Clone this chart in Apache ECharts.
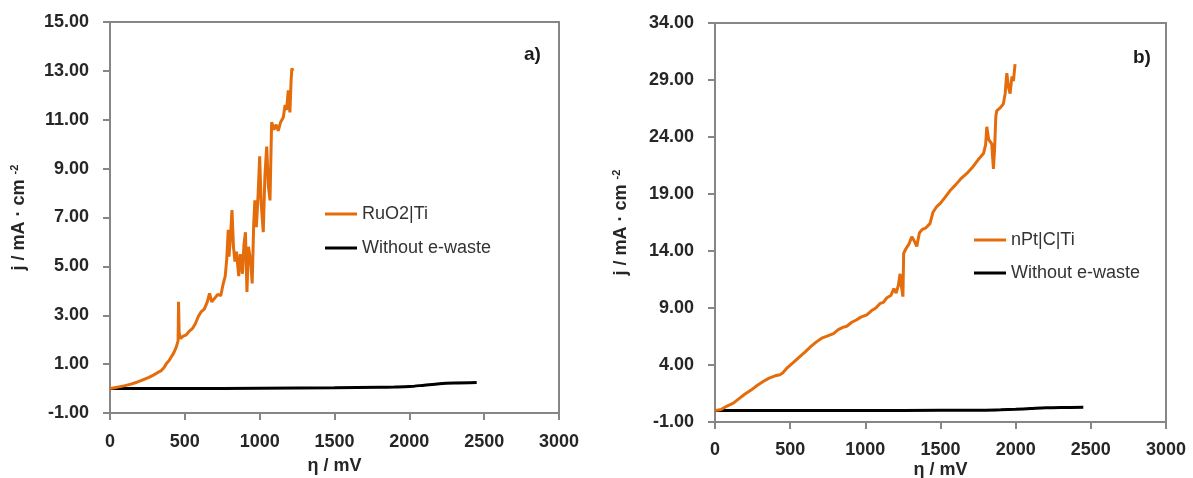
<!DOCTYPE html>
<html>
<head>
<meta charset="utf-8">
<script src="https://cdn.jsdelivr.net/npm/echarts@6/dist/echarts.min.js"></script>
<style>
html,body{margin:0;padding:0;background:#fff;}
#c{width:1193px;height:478px;}
</style>
</head>
<body>
<div id="c"></div>
<script>
// ---- Panel a) RuO2|Ti ----
const ruX = [0,30,60,100,140,180,220,260,290,320,340,360,380,395,410,425,440,450,455,458,462,470,490,510,530,550,570,590,610,630,650,665,680,700,720,740,755,770,780,790,795,805,815,825,835,845,860,870,885,895,905,915,925,940,950,960,968,978,990,1000,1010,1024,1035,1047,1058,1069,1080,1095,1110,1124,1140,1158,1170,1180,1191,1202,1210,1215,1222];
const ruY = [0.00,0.03,0.07,0.12,0.18,0.26,0.36,0.46,0.55,0.66,0.72,0.85,1.05,1.15,1.30,1.45,1.65,1.85,1.95,3.55,2.30,2.05,2.15,2.20,2.35,2.45,2.65,2.95,3.15,3.25,3.55,3.90,3.55,3.70,3.85,3.80,4.25,4.60,5.30,6.50,5.40,6.20,7.30,5.80,5.20,5.60,4.60,5.50,4.70,5.90,6.40,3.95,5.80,5.20,4.30,6.70,7.70,6.60,8.00,9.50,7.60,6.40,8.70,9.90,8.30,7.70,10.90,10.60,10.80,10.55,10.90,11.10,11.60,11.40,12.20,11.30,12.60,13.10,13.00];
const blankAX = [0,500,1000,1500,1800,1900,2000,2100,2200,2300,2450];
const blankAY = [0.00,0.00,0.01,0.03,0.05,0.06,0.08,0.14,0.20,0.23,0.25];

// ---- Panel b) nPt|C|Ti ----
const ptX = [0,40,80,122,160,200,240,280,320,360,400,432,450,480,520,566,600,640,677,710,750,788,820,850,876,910,940,970,1010,1040,1070,1098,1120,1143,1170,1190,1205,1220,1231,1240,1250,1255,1270,1290,1309,1325,1342,1360,1380,1400,1430,1450,1475,1500,1530,1564,1600,1640,1675,1710,1750,1786,1800,1808,1820,1841,1852,1860,1868,1874,1900,1918,1930,1941,1952,1963,1975,1985,1996];
const ptY = [0.00,0.10,0.40,0.65,1.05,1.45,1.80,2.20,2.55,2.85,3.05,3.15,3.30,3.75,4.20,4.75,5.15,5.65,6.05,6.35,6.55,6.75,7.10,7.30,7.40,7.75,7.95,8.20,8.40,8.75,9.00,9.40,9.50,9.90,10.10,10.70,10.30,11.00,12.00,10.90,10.00,13.80,14.20,14.60,15.25,14.90,14.40,15.60,15.90,16.00,16.40,17.40,17.90,18.20,18.70,19.30,19.80,20.40,20.80,21.30,22.00,22.55,23.30,24.90,23.80,23.40,21.20,23.00,25.80,26.30,26.60,26.90,27.80,29.60,28.40,27.80,29.30,28.90,30.40];
const blankBX = [0,500,1000,1500,1800,1900,2000,2100,2200,2300,2450];
const blankBY = [0.00,0.00,0.00,0.02,0.04,0.07,0.12,0.18,0.24,0.27,0.29];

const xTicks = [0,500,1000,1500,2000,2500,3000];
const yTicksA = [-1,1,3,5,7,9,11,13,15];
const yTicksB = [-1,4,9,14,19,24,29,34];

const seriesNamesA = ['RuO2|Ti','Without e-waste'];
const seriesNamesB = ['nPt|C|Ti','Without e-waste'];

function pairs(xs, ys){ return xs.map((x,i)=>[x, ys[i]]); }

const ORANGE = '#E46C0A';
const AXIS = '#868686';
const LABEL = '#262626';
const FONT = 'Liberation Sans';

function xAxis(gi, gap, lm){
  return {
    type:'value', gridIndex:gi, min:xTicks[0], max:xTicks[xTicks.length-1],
    name:'η / mV', nameLocation:'middle', nameGap:gap, nameMoveOverlap:false,
    nameTextStyle:{fontFamily:FONT, fontSize:18, fontWeight:'bold', color:LABEL},
    axisLine:{show:true, onZero:false, lineStyle:{color:AXIS, width:2}},
    axisTick:{show:true, inside:false, length:7, customValues:xTicks, lineStyle:{color:AXIS, width:2}},
    axisLabel:{margin:lm, customValues:xTicks, fontFamily:FONT, fontSize:18, fontWeight:'bold', color:LABEL,
      formatter:function(v){return String(v);}},
    splitLine:{show:false}
  };
}
function yAxis(gi, ticks, gap){
  return {
    type:'value', gridIndex:gi, min:ticks[0], max:ticks[ticks.length-1],
    name:'{a|j / mA · cm }{s|-2}', nameLocation:'middle', nameGap:gap, nameRotate:90, nameMoveOverlap:false,
    nameTextStyle:{
      rich:{
        a:{fontFamily:FONT, fontSize:18, fontWeight:'bold', color:LABEL},
        s:{fontFamily:FONT, fontSize:11, fontWeight:'bold', color:LABEL, verticalAlign:'top', padding:[0,0,10,0]}
      }
    },
    axisLine:{show:true, onZero:false, lineStyle:{color:AXIS, width:2}},
    axisTick:{show:true, inside:false, length:7, customValues:ticks, lineStyle:{color:AXIS, width:2}},
    axisLabel:{margin:21, customValues:ticks, fontFamily:FONT, fontSize:18, fontWeight:'bold', color:LABEL,
      formatter:function(v){return Number(v).toFixed(2);}},
    splitLine:{show:false}
  };
}

const chart = echarts.init(document.getElementById('c'), null, {renderer:'canvas'});
chart.setOption({
  animation:false,
  backgroundColor:'#fff',
  grid:[
    {left:110, top:22, width:449, height:391, show:true, borderColor:AXIS, borderWidth:2, backgroundColor:'transparent', containLabel:false, outerBoundsMode:'none'},
    {left:715, top:23, width:451, height:399, show:true, borderColor:AXIS, borderWidth:2, backgroundColor:'transparent', containLabel:false, outerBoundsMode:'none'}
  ],
  xAxis:[xAxis(0, 44, 20), xAxis(1, 39, 19)],
  yAxis:[yAxis(0, yTicksA, 80), yAxis(1, yTicksB, 83)],
  legend:[
    {data:seriesNamesA.map(n=>({name:n})), orient:'vertical', left:320, top:200, itemGap:16,
     itemWidth:32, itemHeight:3, icon:'rect', selectedMode:false,
     textStyle:{fontFamily:FONT, fontSize:18, color:'#333'}},
    {data:[{name:seriesNamesB[0]},{name:'Without e-waste '}], orient:'vertical', left:969, top:226, itemGap:15,
     itemWidth:32, itemHeight:3, icon:'rect', selectedMode:false,
     textStyle:{fontFamily:FONT, fontSize:18, color:'#333'},
     formatter:function(n){return n.trim();}}
  ],
  graphic:[
    {type:'text', left:524, top:45, style:{text:'a)', fontFamily:FONT, fontSize:19, fontWeight:'bold', fill:'#1a1a1a'}},
    {type:'text', left:1133, top:48, style:{text:'b)', fontFamily:FONT, fontSize:19, fontWeight:'bold', fill:'#1a1a1a'}}
  ],
  series:[
    {name:seriesNamesA[0], type:'line', xAxisIndex:0, yAxisIndex:0, data:pairs(ruX,ruY), showSymbol:false, symbol:'none',
     lineStyle:{color:ORANGE, width:3}, itemStyle:{color:ORANGE}, z:3},
    {name:seriesNamesA[1], type:'line', xAxisIndex:0, yAxisIndex:0, data:pairs(blankAX,blankAY), showSymbol:false, symbol:'none', smooth:0.3,
     lineStyle:{color:'#000', width:3}, itemStyle:{color:'#000'}, z:2},
    {name:seriesNamesB[0], type:'line', xAxisIndex:1, yAxisIndex:1, data:pairs(ptX,ptY), showSymbol:false, symbol:'none',
     lineStyle:{color:ORANGE, width:3}, itemStyle:{color:ORANGE}, z:3},
    {name:'Without e-waste ', type:'line', xAxisIndex:1, yAxisIndex:1, data:pairs(blankBX,blankBY), showSymbol:false, symbol:'none', smooth:0.3,
     lineStyle:{color:'#000', width:3}, itemStyle:{color:'#000'}, z:2}
  ]
});
</script>
</body>
</html>
